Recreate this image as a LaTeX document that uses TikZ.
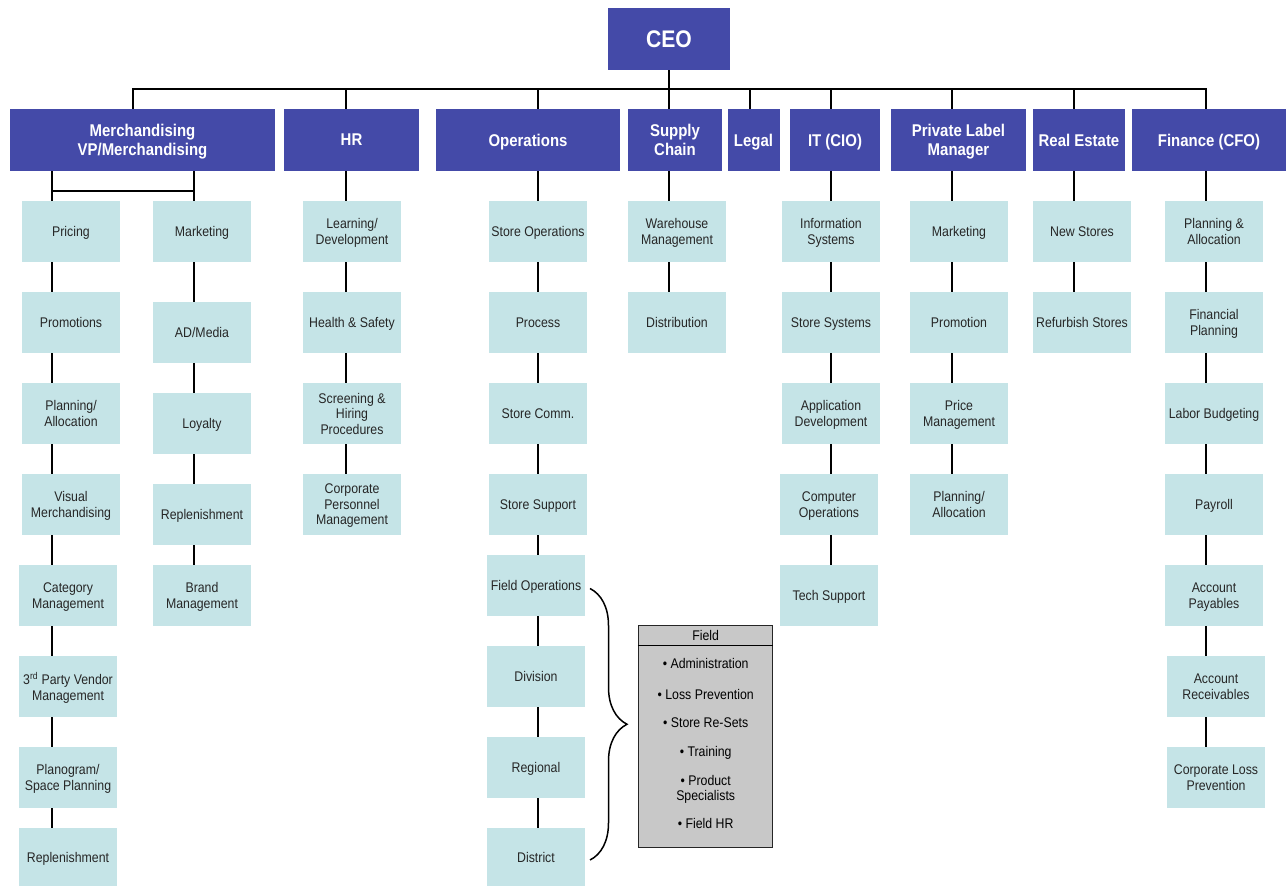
\documentclass[tikz,border=0pt]{standalone}
\usepackage{fontspec}
\setmainfont{Liberation Sans}[FakeStretch=0.88]
\usetikzlibrary{positioning, backgrounds, decorations.pathreplacing}

\definecolor{headblue}{RGB}{68,74,168}
\definecolor{unitcyan}{RGB}{197,228,231}
\definecolor{fieldgray}{RGB}{200,200,200}

\begin{document}
\begin{tikzpicture}[
        x=1pt, y=-1pt,
        node distance=30pt and 10pt,
        head/.style={rectangle, fill=headblue, text=white, minimum height=62pt, inner sep=2pt, outer sep=0pt, text depth=0pt, align=center, font=\fontsize{17}{18.5}\selectfont\bfseries},
        unit/.style={rectangle, fill=unitcyan, text=black!85, minimum width=98pt, minimum height=61pt, inner sep=1pt, outer sep=0pt, text depth=-5pt, align=center, font=\fontsize{14}{15.5}\selectfont},
        fieldbox/.style={rectangle, draw=black!85, fill=fieldgray, line width=1.5pt, minimum width=134pt, minimum height=222pt},
        link/.style={draw=black, line width=2pt, line cap=rect}
    ]
    \useasboundingbox (0,0) rectangle (1286,886);

    % Top level
    \node[head, minimum width=122pt, font=\fontsize{24}{26}\selectfont\bfseries] (ceo) at (669,39) {CEO};
    \node[head, minimum width=265pt] (merch) at (142.5,140) {Merchandising\\VP/Merchandising};
    \node[head, minimum width=135pt, right=9pt of merch] (hr) {HR};
    \node[head, minimum width=184pt, right=17pt of hr] (ops) {Operations};
    \node[head, minimum width=94pt, right=8pt of ops] (supply) {Supply\\Chain};
    \node[head, minimum width=52pt, right=5.5pt of supply] (legal) {Legal};
    \node[head, minimum width=90pt, right=10.5pt of legal] (it) {IT (CIO)};
    \node[head, minimum width=135pt, right=11pt of it] (plm) {Private Label\\Manager};
    \node[head, minimum width=92pt, right=7pt of plm] (re) {Real Estate};
    \node[head, minimum width=154pt, right=7pt of re] (fin) {Finance (CFO)};

    % Merchandising
    \node[unit] (pricing) at (71,231.5) {Pricing};
    \node[unit, below=of pricing] (promo) {Promotions};
    \node[unit, below=of promo] (mplan) {Planning/\\Allocation};
    \node[unit, below=of mplan] (visual) {Visual\\Merchandising};
    \node[unit, below=of visual, xshift=-3pt] (category) {Category\\Management};
    \node[unit, below=of category] (vendor) {3\textsuperscript{rd} Party Vendor\\Management};
    \node[unit, below=of vendor] (planogram) {Planogram/\\Space Planning};
    \node[unit, below=20pt of planogram, minimum height=58pt] (mrepl) {Replenishment};

    \node[unit] (mkt) at (202,231.5) {Marketing};
    \node[unit, below=40pt of mkt] (admedia) {AD/Media};
    \node[unit, below=of admedia] (loyalty) {Loyalty};
    \node[unit, below=of loyalty] (mrepl2) {Replenishment};
    \node[unit, below=20pt of mrepl2] (brand) {Brand\\Management};

    % HR
    \node[unit] (learn) at (352,231.5) {Learning/\\Development};
    \node[unit, below=of learn] (health) {Health \& Safety};
    \node[unit, below=of health] (screen) {Screening \&\\Hiring\\Procedures};
    \node[unit, below=of screen] (corp) {Corporate\\Personnel\\Management};

    % Operations
    \node[unit] (storeops) at (538,231.5) {Store Operations};
    \node[unit, below=of storeops] (process) {Process};
    \node[unit, below=of process] (comm) {Store Comm.};
    \node[unit, below=of comm] (support) {Store Support};
    \node[unit, below=20pt of support, xshift=-2pt] (fieldops) {Field Operations};
    \node[unit, below=of fieldops] (division) {Division};
    \node[unit, below=of division] (regional) {Regional};
    \node[unit, below=of regional, minimum height=58pt] (district) {District};

    % Supply chain
    \node[unit] (wh) at (677,231.5) {Warehouse\\Management};
    \node[unit, below=of wh] (distrib) {Distribution};

    % IT
    \node[unit] (infosys) at (831,231.5) {Information\\Systems};
    \node[unit, below=of infosys] (storesys) {Store Systems};
    \node[unit, below=of storesys] (appdev) {Application\\Development};
    \node[unit, below=of appdev, xshift=-2pt] (compops) {Computer\\Operations};
    \node[unit, below=of compops] (tech) {Tech Support};

    % Private label
    \node[unit] (plmkt) at (959,231.5) {Marketing};
    \node[unit, below=of plmkt] (plpromo) {Promotion};
    \node[unit, below=of plpromo] (price) {Price\\Management};
    \node[unit, below=of price] (plplan) {Planning/\\Allocation};

    % Real estate
    \node[unit] (newst) at (1082,231.5) {New Stores};
    \node[unit, below=of newst] (refurb) {Refurbish Stores};

    % Finance
    \node[unit] (fplan) at (1214,231.5) {Planning \&\\Allocation};
    \node[unit, below=of fplan] (finplan) {Financial\\Planning};
    \node[unit, below=of finplan] (labor) {Labor Budgeting};
    \node[unit, below=of labor] (payroll) {Payroll};
    \node[unit, below=of payroll] (ap) {Account\\Payables};
    \node[unit, below=of ap, xshift=2pt] (ar) {Account\\Receivables};
    \node[unit, below=of ar] (clp) {Corporate Loss\\Prevention};

    % Field box
    \node[fieldbox] (field) at (705.7,736.7) {};
    \node[below=0pt of field.north, minimum height=20pt, inner sep=0pt, font=\fontsize{14}{15}\selectfont] (fieldT) {Field};
    \node[below=13pt of fieldT, inner sep=0pt, align=center, font=\fontsize{14}{15}\selectfont] (fieldL)
        {\textbullet\ Administration\\[16pt] \textbullet\ Loss Prevention\\[13pt] \textbullet\ Store Re-Sets\\[14pt]
         \textbullet\ Training\\[14pt] \textbullet\ Product\\ Specialists\\[13pt] \textbullet\ Field HR};
    \draw[line width=1.2pt] (field.west |- fieldT.south) -- (field.east |- fieldT.south);

    % Brace
    \draw[line width=1.5pt, decorate, decoration={brace, amplitude=37pt}]
        ([xshift=5pt, yshift=-3pt]fieldops.east) -- ([xshift=5pt, yshift=-3pt]district.east);

    % Connectors
    \coordinate (bus) at (669,89);
    \coordinate (subbus) at (0,191);
    \coordinate (merchX) at (133,0);
    \coordinate (mOneX) at (52,0);
    \coordinate (mTwoX) at (194,0);
    \coordinate (legalX) at (750,0);
    \coordinate (hrX) at (346,0);
    \coordinate (opsX) at (538,0);
    \coordinate (supplyX) at (669,0);
    \coordinate (itX) at (831,0);
    \coordinate (plmX) at (952,0);
    \coordinate (reX) at (1074,0);
    \coordinate (finX) at (1206,0);

    \begin{scope}[on background layer]
        \draw[link] (ceo.south) -- (bus);
        \draw[link] (bus -| merchX) -- (bus -| finX);
        \draw[link] (bus -| merchX) -- (merchX |- merch.north);
        \draw[link] (bus -| legalX) -- (legalX |- legal.north);
        \draw[link] (mOneX |- merch.south) -- (mOneX |- mrepl.north);
        \draw[link] (mTwoX |- merch.south) -- (mTwoX |- brand.north);
        \draw[link] (mOneX |- subbus) -- (mTwoX |- subbus);
        \foreach \h/\c/\last in {hr/hrX/corp, ops/opsX/district, supply/supplyX/distrib,
                                 it/itX/tech, plm/plmX/plplan, re/reX/refurb, fin/finX/clp} {
            \draw[link] (bus -| \c) -- (\c |- \h.north);
            \draw[link] (\c |- \h.south) -- (\c |- \last.north);
        }
    \end{scope}
\end{tikzpicture}
\end{document}
